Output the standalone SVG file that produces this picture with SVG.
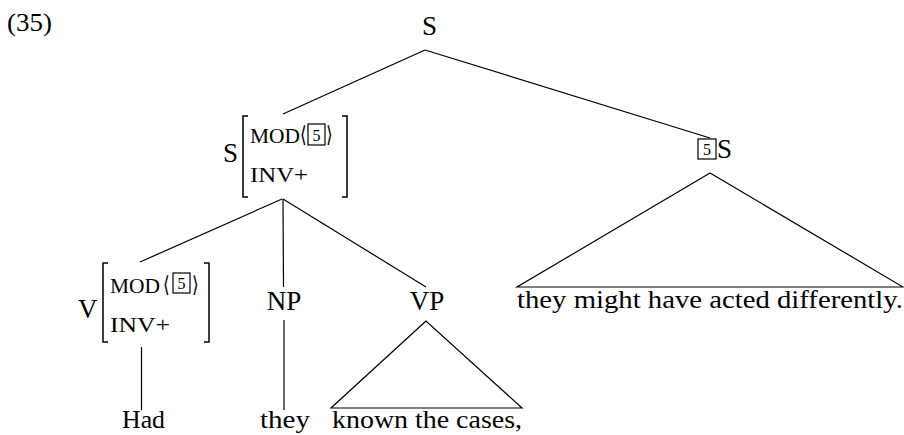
<svg xmlns="http://www.w3.org/2000/svg" width="904" height="435" viewBox="0 0 904 435">
<style>
.ln{stroke:#000;stroke-width:1.2;fill:none}
.br{stroke:#000;stroke-width:1.5;fill:none}
.box{stroke:#000;stroke-width:1.2;fill:none}
</style>
<rect width="904" height="435" fill="#fff"/>
<text x="7" y="31" font-size="26" font-family="Liberation Serif" textLength="45" lengthAdjust="spacingAndGlyphs">(35)</text>
<g id="connectors">
<line class="ln" x1="425" y1="50" x2="283" y2="114"/>
<line class="ln" x1="425" y1="50" x2="710" y2="138"/>
<line class="ln" x1="282" y1="199" x2="140" y2="262"/>
<line class="ln" x1="283" y1="199" x2="283.5" y2="287"/>
<line class="ln" x1="283" y1="199" x2="426" y2="287"/>
<line class="ln" x1="141.5" y1="347" x2="141.5" y2="410"/>
<line class="ln" x1="284" y1="320" x2="284" y2="410"/>
<polygon class="ln" points="426,321 331,408 522,408"/>
<polygon class="ln" points="710,173 517,287 903,287"/>
</g>
<g id="node-S-top">
<text x="429.5" y="35" font-size="27" font-family="Liberation Serif" text-anchor="middle">S</text>
</g>
<g id="node-S-inv">
<text x="223" y="162" font-size="27" font-family="Liberation Serif">S</text>
<path class="br" d="M248,116 H243 V197 H248"/>
<path class="br" d="M342,116 H347 V197 H342"/>
<text x="250" y="143" font-size="21" font-family="Liberation Serif" textLength="50" lengthAdjust="spacingAndGlyphs">MOD</text>
<text x="300" y="142" font-size="22" font-family="Liberation Serif" textLength="7" lengthAdjust="spacingAndGlyphs">⟨</text>
<rect class="box" x="308" y="124" width="17" height="21"/>
<text x="316.5" y="141" font-size="16" font-family="Liberation Serif" text-anchor="middle">5</text>
<text x="326" y="142" font-size="22" font-family="Liberation Serif" textLength="7" lengthAdjust="spacingAndGlyphs">⟩</text>
<text x="250" y="182" font-size="21" font-family="Liberation Serif" textLength="58" lengthAdjust="spacingAndGlyphs">INV+</text>
</g>
<g id="node-V">
<text x="78" y="318" font-size="27" font-family="Liberation Serif">V</text>
<path class="br" d="M108,263 H103 V342 H108"/>
<path class="br" d="M204,263 H209 V342 H204"/>
<text x="110" y="293" font-size="21" font-family="Liberation Serif" textLength="50" lengthAdjust="spacingAndGlyphs">MOD</text>
<text x="163" y="292" font-size="22" font-family="Liberation Serif" textLength="7" lengthAdjust="spacingAndGlyphs">⟨</text>
<rect class="box" x="173" y="273" width="17" height="20"/>
<text x="181.5" y="289" font-size="16" font-family="Liberation Serif" text-anchor="middle">5</text>
<text x="192" y="292" font-size="22" font-family="Liberation Serif" textLength="7" lengthAdjust="spacingAndGlyphs">⟩</text>
<text x="110" y="332" font-size="21" font-family="Liberation Serif" textLength="60" lengthAdjust="spacingAndGlyphs">INV+</text>
</g>
<g id="node-NP">
<text x="284" y="310" font-size="27" font-family="Liberation Serif" text-anchor="middle">NP</text>
</g>
<g id="node-VP">
<text x="427" y="310" font-size="27" font-family="Liberation Serif" text-anchor="middle">VP</text>
</g>
<g id="node-5S">
<rect class="box" x="698" y="139" width="18" height="20"/>
<text x="707" y="155" font-size="16" font-family="Liberation Serif" text-anchor="middle">5</text>
<text x="717" y="158" font-size="27" font-family="Liberation Serif">S</text>
</g>
<g id="leaf-had">
<text x="122" y="428" font-size="25" font-family="Liberation Serif" textLength="43" lengthAdjust="spacingAndGlyphs">Had</text>
</g>
<g id="leaf-they">
<text x="260" y="428" font-size="25" font-family="Liberation Serif" textLength="50" lengthAdjust="spacingAndGlyphs">they</text>
</g>
<g id="leaf-known">
<text x="332" y="428" font-size="25" font-family="Liberation Serif" textLength="190" lengthAdjust="spacingAndGlyphs">known the cases,</text>
</g>
<g id="leaf-right">
<text x="517" y="308" font-size="26" font-family="Liberation Serif" textLength="386" lengthAdjust="spacingAndGlyphs">they might have acted differently.</text>
</g>
</svg>
